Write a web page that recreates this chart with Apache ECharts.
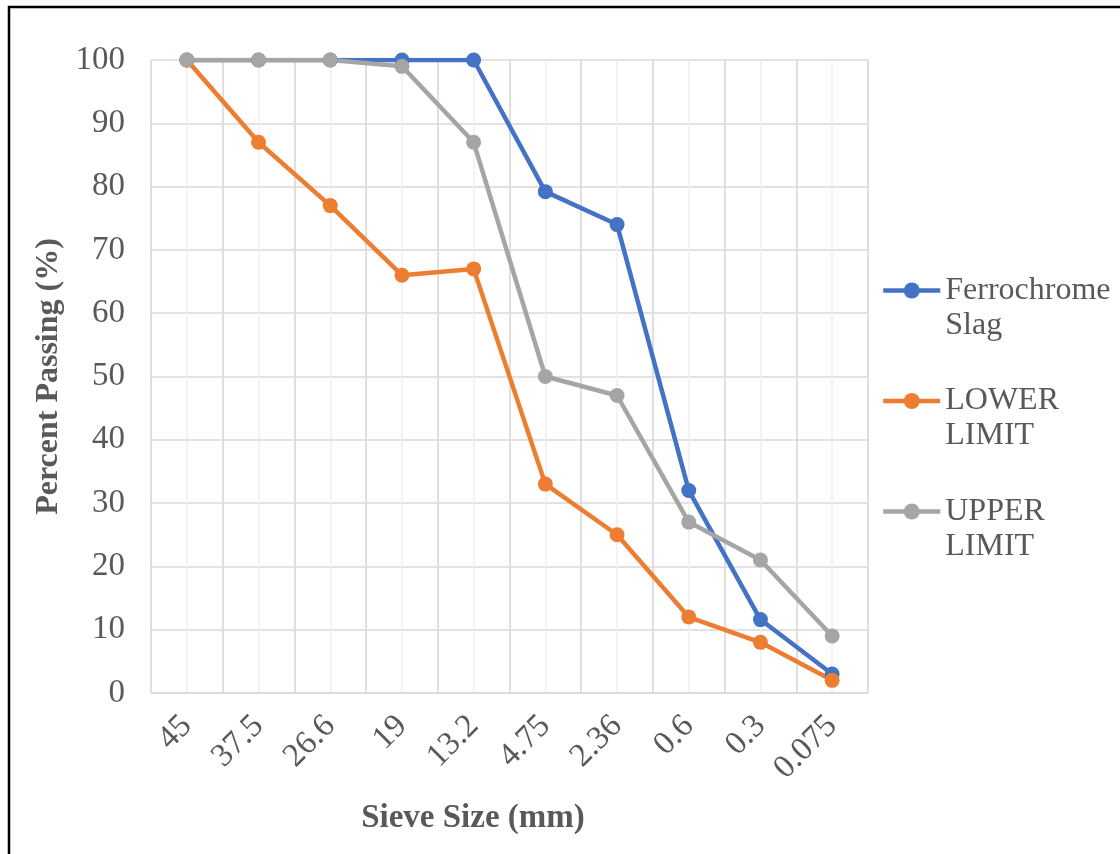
<!DOCTYPE html>
<html>
<head>
<meta charset="utf-8">
<script src="https://cdn.jsdelivr.net/npm/echarts@6/dist/echarts.min.js"></script>
<style>
html,body{margin:0;padding:0;background:#fff;}
#chart{width:1120px;height:854px;}
</style>
</head>
<body>
<div id="chart"></div>
<script>
const categories = ['45','37.5','26.6','19','13.2','4.75','2.36','0.6','0.3','0.075'];
const ferrochrome = [100,100,100,100,100,79.2,74,32,11.6,3];
const lowerLimit = [100,87,77,66,67,33,25,12,8,2];
const upperLimit = [100,100,100,99,87,50,47,27,21,9];
const seriesNames = ['Ferrochrome Slag','LOWER LIMIT','UPPER LIMIT'];
const legendLabels = {'Ferrochrome Slag':'\nFerrochrome\nSlag','LOWER LIMIT':'\nLOWER\nLIMIT','UPPER LIMIT':'\nUPPER\nLIMIT'};
const colors = ['#4472C4','#ED7D31','#A5A5A5'];

const FONT = '"Liberation Serif","Times New Roman",serif';
const TXT = '#595959';

const chart = echarts.init(document.getElementById('chart'));
function mk(name, data, color){
  return {
    name: name, type:'line', data: data, xAxisIndex:1,
    symbol:'circle', symbolSize:15,
    lineStyle:{color:color,width:4.5},
    itemStyle:{color:color},
    emphasis:{disabled:true},
    animation:false
  };
}
chart.setOption({
  animation:false,
  color: colors,
  textStyle:{fontFamily:FONT},
  graphic:[{type:'rect',shape:{x:9,y:7,width:1200,height:900},style:{fill:'none',stroke:'#000',lineWidth:2.5},silent:true}],
  grid:{left:151,right:252,top:60,bottom:161,containLabel:false},
  legend:{
    orient:'vertical', left:881, top:238, padding:0,
    itemWidth:57, itemHeight:20, itemGap:5.5,
    data: seriesNames,
    formatter: n => legendLabels[n],
    lineStyle:{width:4.5},
    textStyle:{fontFamily:FONT,fontSize:32,color:TXT,lineHeight:35}
  },
  xAxis:[
    {type:'value',min:0,max:10,interval:0.5,show:true,position:'bottom',
     axisLine:{show:false},axisTick:{show:false},axisLabel:{show:false},
     splitLine:{show:true,lineStyle:{color:'#efefef',width:1.5}}},
    {type:'category',data:categories,boundaryGap:true,position:'bottom',
     axisLine:{show:true,lineStyle:{color:'#d9d9d9',width:1.5}},
     axisTick:{show:false},
     axisLabel:{rotate:45,fontSize:33,color:TXT,fontFamily:FONT,margin:28,interval:0},
     splitLine:{show:true,interval:0,lineStyle:{color:'#d9d9d9',width:1.5}},
     name:'Sieve Size (mm)',nameLocation:'middle',nameGap:109,
     nameTextStyle:{fontFamily:FONT,fontSize:33,fontWeight:'bold',color:TXT,padding:[0,73,0,0]}}
  ],
  yAxis:{type:'value',min:0,max:100,interval:10,
    axisLine:{show:false},axisTick:{show:false},
    axisLabel:{fontSize:33,color:TXT,fontFamily:FONT,margin:26},
    splitLine:{lineStyle:{color:'#d9d9d9',width:1.5}},
    name:'Percent Passing (%)',nameLocation:'middle',nameGap:85,nameRotate:90,
    nameTextStyle:{fontFamily:FONT,fontSize:32,fontWeight:'bold',color:TXT}},
  series:[
    mk(seriesNames[0], ferrochrome, colors[0]),
    mk(seriesNames[1], lowerLimit, colors[1]),
    mk(seriesNames[2], upperLimit, colors[2])
  ]
});
</script>
</body>
</html>
